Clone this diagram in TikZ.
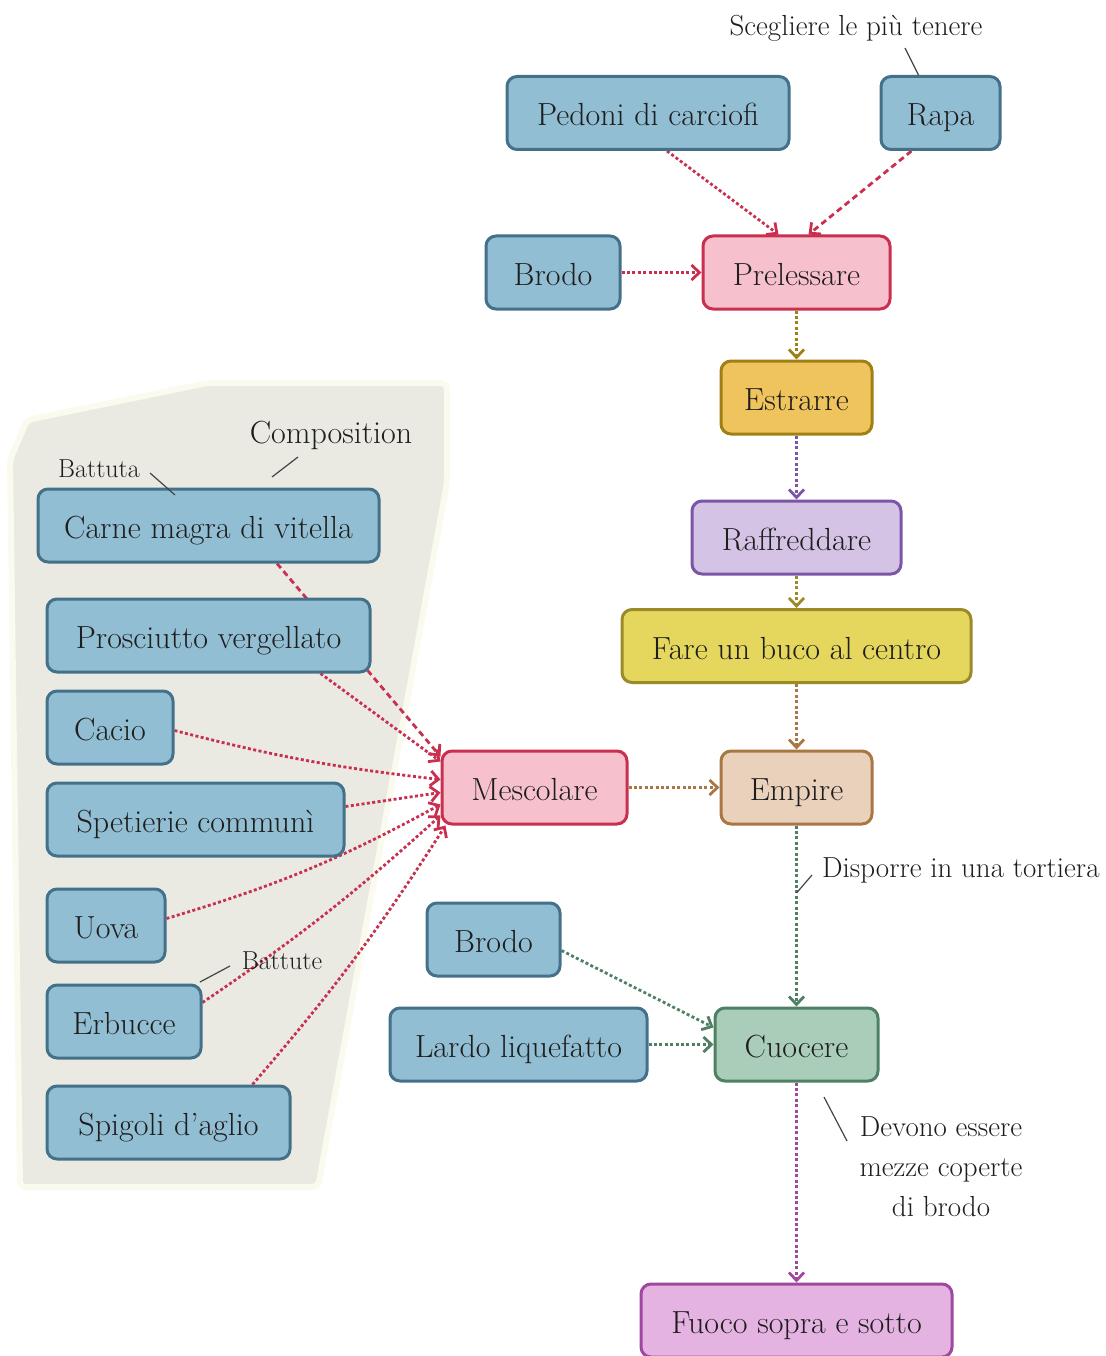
\documentclass[tikz,border=0pt]{standalone}
\usepackage{fontspec}
\usetikzlibrary{arrows.meta}

\definecolor{ink}{RGB}{30,30,30}
\definecolor{blueF}{RGB}{146,190,211}\definecolor{blueD}{RGB}{67,113,138}
\definecolor{pinkF}{RGB}{246,192,204}\definecolor{pinkD}{RGB}{201,48,79}
\definecolor{goldF}{RGB}{239,196,92}\definecolor{goldD}{RGB}{160,128,20}
\definecolor{lavF}{RGB}{212,195,228}\definecolor{lavD}{RGB}{123,86,166}
\definecolor{yelF}{RGB}{229,215,94}\definecolor{yelD}{RGB}{155,138,40}
\definecolor{peachF}{RGB}{234,209,187}\definecolor{peachD}{RGB}{168,119,68}
\definecolor{greenF}{RGB}{169,205,184}\definecolor{greenD}{RGB}{78,128,100}
\definecolor{magF}{RGB}{229,179,226}\definecolor{magD}{RGB}{160,72,160}
\definecolor{groupF}{RGB}{234,234,226}\definecolor{groupD}{RGB}{250,250,238}
\definecolor{noteD}{RGB}{68,68,68}

\newcommand{\boxfont}{\fontsize{32}{38}\selectfont}
\newcommand{\notefont}{\fontsize{29}{40}\selectfont}
\newcommand{\titlefont}{\fontsize{32}{38}\selectfont}
\newcommand{\smallnotefont}{\fontsize{26}{30}\selectfont}

\pgfdeclarelayer{background}
\pgfdeclarelayer{edges}
\pgfsetlayers{background,edges,main}

\begin{document}
\begin{tikzpicture}[x=1pt,y=-1pt,
  box/.style={rectangle, rounded corners=10pt, line width=3pt, minimum height=73pt,
    inner sep=0pt, text height=30pt, text depth=4pt, font=\boxfont, text=ink},
  ingr/.style={box, fill=blueF, draw=blueD},
  pinkbox/.style={box, fill=pinkF, draw=pinkD},
  goldbox/.style={box, fill=goldF, draw=goldD},
  lavbox/.style={box, fill=lavF, draw=lavD},
  yelbox/.style={box, fill=yelF, draw=yelD},
  peachbox/.style={box, fill=peachF, draw=peachD},
  greenbox/.style={box, fill=greenF, draw=greenD},
  magbox/.style={box, fill=magF, draw=magD},
  flow/.style={line width=2.8pt, dash pattern=on 3pt off 2.4pt,
    -{Straight Barb[length=8pt,width=15pt]}},
  dashflow/.style={flow, dash pattern=on 6pt off 4pt},
  note/.style={inner sep=0pt, font=\notefont, text=ink, align=center},
  smallnote/.style={inner sep=0pt, font=\smallnotefont, text=ink},
  noteline/.style={draw=noteD, line width=1.2pt}]

\useasboundingbox (0,0) rectangle (1105,1356);

% shaded group behind the ingredients of the filling
\begin{pgfonlayer}{background}
\filldraw[fill=groupF, draw=groupD, line width=6pt, rounded corners=6pt]
  (27,420) -- (207,383) -- (447,383) -- (447,483) -- (318,1187)
  -- (20,1187) -- (10,460) -- cycle;
\end{pgfonlayer}

% ingredients of the filling
\node[ingr, minimum width=341pt] (carne)  at (208.5,525.5) {Carne magra di vitella};
\node[ingr, minimum width=323pt] (prosc)  at (208.5,635.5) {Prosciutto vergellato};
\node[ingr, minimum width=126pt] (cacio)  at (110,727.5)   {Cacio};
\node[ingr, minimum width=297pt] (spet)   at (195.5,819.5) {Spetierie communì};
\node[ingr, minimum width=118pt] (uova)   at (106,925.5)   {Uova};
\node[ingr, minimum width=154pt] (erbu)   at (124,1021.5)  {Erbucce};
\node[ingr, minimum width=243pt] (spig)   at (168.5,1122.5){Spigoli d'aglio};

% other ingredients
\node[ingr, minimum width=282pt] (pedoni) at (648,113)     {Pedoni di carciofi};
\node[ingr, minimum width=119pt] (rapa)   at (940.5,113)   {Rapa};
\node[ingr, minimum width=134pt] (brodoA) at (553,272.5)   {Brodo};
\node[ingr, minimum width=133pt] (brodoB) at (493.5,939.5) {Brodo};
\node[ingr, minimum width=257pt] (lardo)  at (518.5,1044.5){Lardo liquefatto};

% steps of the recipe
\node[pinkbox,  minimum width=187pt] (prel)  at (796.5,272.5)  {Prelessare};
\node[goldbox,  minimum width=151pt] (estr)  at (796.5,397.5)  {Estrarre};
\node[lavbox,   minimum width=209pt] (raff)  at (796.5,537.5)  {Raffreddare};
\node[yelbox,   minimum width=349pt] (fare)  at (796.5,646)    {Fare un buco al centro};
\node[pinkbox,  minimum width=185pt] (mesc)  at (534.5,787.5)  {Mescolare};
\node[peachbox, minimum width=151pt] (emp)   at (796.5,787.5)  {Empire};
\node[greenbox, minimum width=163pt] (cuoc)  at (796.5,1044.5) {Cuocere};
\node[magbox,   minimum width=311pt] (fuoco) at (796.5,1320.5) {Fuoco sopra e sotto};

\begin{pgfonlayer}{edges}
% flow towards Prelessare
\draw[flow, pinkD] ([xshift=19pt]pedoni.south) -- ([xshift=-18pt]prel.north);
\draw[dashflow, pinkD] ([xshift=-29pt]rapa.south) -- ([xshift=12pt]prel.north);
\draw[flow, pinkD] (brodoA.east) -- (prel.west);

% main sequence
\draw[flow, goldD]  (prel.south) -- (estr.north);
\draw[flow, lavD]   (estr.south) -- (raff.north);
\draw[flow, yelD]   (raff.south) -- (fare.north);
\draw[flow, peachD] (fare.south) -- (emp.north);
\draw[flow, peachD] (mesc.east) -- (emp.west);
\draw[flow, greenD] (emp.south) -- (cuoc.north);
\draw[flow, greenD] ([yshift=-11pt]brodoB.east) -- ([yshift=17pt]cuoc.west);
\draw[flow, greenD] (lardo.east) -- (cuoc.west);
\draw[flow, magD]   (cuoc.south) -- (fuoco.north);

% filling ingredients into Mescolare
\draw[dashflow, pinkD] ([xshift=68.5pt]carne.south) -- ([yshift=31pt]mesc.west);
\draw[flow, pinkD] ([xshift=112pt]prosc.south) -- ([yshift=26pt]mesc.west);
\draw[flow, pinkD] ([yshift=-3pt]cacio.east) to[bend right=4] ([yshift=8pt]mesc.west);
\draw[flow, pinkD] ([yshift=13pt]spet.east) -- ([yshift=-5pt]mesc.west);
\draw[flow, pinkD] ([yshift=7pt]uova.east) to[bend right=6] ([yshift=-17pt]mesc.west);
\draw[flow, pinkD] ([yshift=19pt]erbu.east) to[bend right=4] ([yshift=-28pt]mesc.west);
\draw[flow, pinkD] ([xshift=84pt]spig.north) to[bend right=4] ([xshift=5pt]mesc.south west);
\end{pgfonlayer}

% annotations
\node[note] (tScegl) at (856,28) {Scegliere le più tenere};
\coordinate (aScegl) at (905,48);
\draw[noteline] (aScegl) -- ([xshift=-22pt]rapa.north);

\node[inner sep=0pt, font=\titlefont, text=ink] (tComp) at (331,435) {Composition};
\coordinate (aComp1) at (298,457); \coordinate (aComp2) at (272,477);
\draw[noteline] (aComp1) -- (aComp2);

\node[smallnote] (tBattuta) at (99,469) {Battuta};
\coordinate (aBattuta1) at (150,473); \coordinate (aBattuta2) at (175,495);
\draw[noteline] (aBattuta1) -- (aBattuta2);

\node[smallnote] (tBattute) at (282,961) {Battute};
\coordinate (aBattute1) at (230,966); \coordinate (aBattute2) at (200,982);
\draw[noteline] (aBattute1) -- (aBattute2);

\node[note, anchor=west] (tDisp) at (822,870) {Disporre in una tortiera};
\coordinate (aDisp) at (812,875); \coordinate (aDispEnd) at (796.5,893);
\draw[noteline] (aDisp) -- (aDispEnd);

\node[note] (tDevono) at (941,1167) {Devono essere\\mezze coperte\\di brodo};
\coordinate (aDev1) at (824,1097); \coordinate (aDev2) at (847,1141);
\draw[noteline] (aDev1) -- (aDev2);
\end{tikzpicture}
\end{document}
